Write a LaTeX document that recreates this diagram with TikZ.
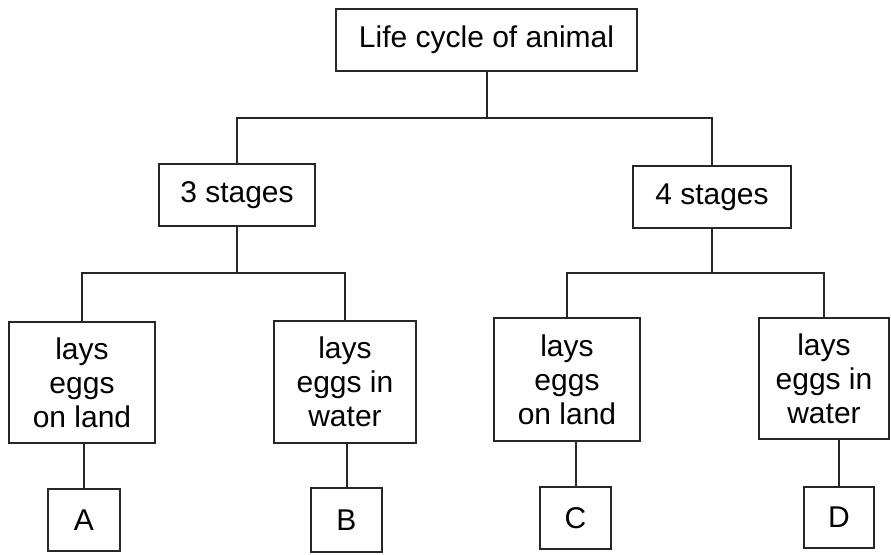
\documentclass[tikz,border=0pt]{standalone}
\usepackage{fontspec}
\setmainfont{Liberation Sans}
\begin{document}
\begin{tikzpicture}[x=1pt,y=-1pt,
  box/.style={draw=black!85, line width=2pt, inner sep=0pt, align=center,
    font=\fontsize{30}{34}\selectfont},
  conn/.style={draw=black!85, line width=2pt}]
\useasboundingbox (0,0) rectangle (891,554);
\node[box, minimum width=301pt, minimum height=62pt] (top) at (486.5,40) {Life cycle of animal};
\node[box, minimum width=156pt, minimum height=62pt] (s3) at (237,195) {3 stages};
\node[box, minimum width=158pt, minimum height=62pt] (s4) at (712,197) {4 stages};
\node[box, minimum width=146pt, minimum height=121pt] (l1) at (82,382.5) {lays\\eggs\\on land};
\node[box, minimum width=142pt, minimum height=122pt] (l2) at (345,382) {lays\\eggs in\\water};
\node[box, minimum width=146pt, minimum height=123pt] (l3) at (567,379.5) {lays\\eggs\\on land};
\node[box, minimum width=130pt, minimum height=121pt] (l4) at (824,378.5) {lays\\eggs in\\water};
\node[box, minimum width=72pt, minimum height=62pt] (A) at (84,520) {A};
\node[box, minimum width=71pt, minimum height=64pt] (B) at (346.5,520) {B};
\node[box, minimum width=71pt, minimum height=62pt] (C) at (575.5,518) {C};
\node[box, minimum width=70pt, minimum height=61pt] (D) at (839,517.5) {D};
\coordinate (j1) at (486.5,118);
\coordinate (j2) at (237,273);
\coordinate (j3) at (712,273);
\draw[conn] (top.south) -- (j1);
\draw[conn] (s3.north) |- (j1) -| (s4.north);
\draw[conn] (s3.south) -- (j2);
\draw[conn] (l1.north) |- (j2) -| (l2.north);
\draw[conn] (s4.south) -- (j3);
\draw[conn] (l3.north) |- (j3) -| (l4.north);
\draw[conn] (A.north) -- (A.north |- l1.south);
\draw[conn] (B.north) -- (B.north |- l2.south);
\draw[conn] (C.north) -- (C.north |- l3.south);
\draw[conn] (D.north) -- (D.north |- l4.south);
\end{tikzpicture}
\end{document}
